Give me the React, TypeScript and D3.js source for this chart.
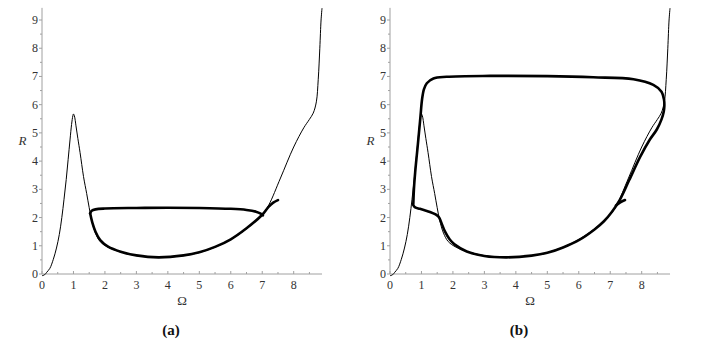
import React from 'react'
import * as d3 from 'd3'

// thin curve (same in both panels): [Omega, R]
const thinCurve: [number, number][] = [
  [0, -0.06], [0.08, -0.03], [0.15, 0.06], [0.25, 0.2], [0.36, 0.52], [0.46, 0.92],
  [0.55, 1.4], [0.63, 2.0], [0.7, 2.65], [0.77, 3.35], [0.83, 4.05], [0.89, 4.75],
  [0.94, 5.3], [0.98, 5.6], [1.0, 5.67], [1.03, 5.6], [1.08, 5.25], [1.14, 4.8], [1.21, 4.3],
  [1.32, 3.45], [1.42, 2.85], [1.5, 2.35], [1.58, 1.9], [1.7, 1.45], [1.85, 1.15],
  [2.1, 0.95], [2.5, 0.78], [3.0, 0.65], [3.7, 0.59], [4.5, 0.65], [5.0, 0.76],
  [5.5, 0.95], [6.0, 1.22], [6.5, 1.6], [7.0, 2.1], [7.21, 2.45], [7.58, 3.4],
  [8.0, 4.5], [8.32, 5.18], [8.5, 5.48], [8.62, 5.7], [8.72, 6.1], [8.78, 6.9],
  [8.83, 8.0], [8.87, 9.0], [8.9, 9.42],
]

// panel (a) thick branches
const lowerA: [number, number][] = [
  [1.53, 2.15], [1.6, 1.82], [1.7, 1.5], [1.85, 1.2], [2.1, 0.97], [2.5, 0.79],
  [3.0, 0.66], [3.7, 0.59], [4.5, 0.66], [5.0, 0.77], [5.5, 0.96], [6.0, 1.23],
  [6.5, 1.62], [7.0, 2.1], [7.2, 2.38], [7.35, 2.53], [7.5, 2.62],
]
const upperA: [number, number][] = [
  [1.53, 2.15], [1.58, 2.24], [1.7, 2.29], [2.0, 2.32], [3, 2.34], [4, 2.35],
  [5, 2.34], [6, 2.31], [6.5, 2.27], [6.8, 2.21], [6.95, 2.14], [7.02, 2.08],
]

// panel (b) thick loop + stub
const loopB: [number, number][] = [
  [0.74, 2.44], [0.8, 2.36], [0.95, 2.31], [1.1, 2.26], [1.27, 2.2], [1.45, 2.11],
  [1.55, 2.02], [1.62, 1.85], [1.75, 1.5], [1.9, 1.22], [2.05, 1.05], [2.44, 0.8],
  [3.0, 0.64], [3.7, 0.59], [4.5, 0.65], [5.0, 0.75], [5.5, 0.94], [6.0, 1.2],
  [6.5, 1.58], [6.8, 1.87], [7.05, 2.2], [7.3, 2.62], [7.6, 3.32], [7.95, 4.15],
  [8.25, 4.75], [8.48, 5.12], [8.63, 5.48], [8.7, 5.75], [8.72, 5.95], [8.71, 6.17],
  [8.63, 6.46], [8.37, 6.7], [7.74, 6.9], [6.46, 6.97], [5, 7.01], [3.18, 7.02],
  [1.8, 6.99], [1.38, 6.93], [1.17, 6.76], [1.08, 6.55], [1.02, 6.2], [0.97, 5.6],
  [0.92, 5.0], [0.86, 4.3], [0.8, 3.6], [0.76, 3.0], [0.74, 2.44],
]
const stubB: [number, number][] = [[7.18, 2.43], [7.32, 2.54], [7.47, 2.62]]

const xTicks = [0, 1, 2, 3, 4, 5, 6, 7, 8]
const yTicks = [0, 1, 2, 3, 4, 5, 6, 7, 8, 9]
const xMinor = d3.range(0.5, 8.9, 1)
const yMinor = d3.range(0.5, 9.4, 1)

const serif = "'Liberation Serif', 'DejaVu Serif', serif"
const axisColor = '#a0a0a0'

type Props = { left: number, label: string, thick: [number, number][][] }

const Panel = ({ left, label, thick }: Props) => {
  const x = d3.scaleLinear().domain([0, 8]).range([left, left + 251.7])
  const y = d3.scaleLinear().domain([0, 9]).range([274, 20])
  const line = d3.line<[number, number]>()
    .x(d => x(d[0]))
    .y(d => y(d[1]))
    .curve(d3.curveCatmullRom.alpha(0.5))
  const xEnd = x(8.9)
  const yTop = y(9.43)
  const mid = (x(0) + xEnd) / 2
  return (
    <g fontFamily={serif}>
      <line x1={x(0)} x2={xEnd} y1={y(0)} y2={y(0)} stroke={axisColor} strokeWidth={1} />
      <line x1={x(0)} x2={x(0)} y1={y(0)} y2={yTop} stroke={axisColor} strokeWidth={1} />
      {xTicks.map(t => (
        <g key={'x' + t}>
          <line x1={x(t)} x2={x(t)} y1={y(0)} y2={y(0) - 3} stroke={axisColor} />
          <text x={x(t)} y={289} textAnchor="middle" fontSize={12} fill="#333">{t}</text>
        </g>
      ))}
      {xMinor.map(t => (
        <line key={'xm' + t} x1={x(t)} x2={x(t)} y1={y(0)} y2={y(0) - 2} stroke={axisColor} />
      ))}
      {yTicks.map(t => (
        <g key={'y' + t}>
          <line x1={x(0) - 3} x2={x(0)} y1={y(t)} y2={y(t)} stroke={axisColor} />
          <text x={x(0) - 4} y={y(t) + 4} textAnchor="end" fontSize={12} fill="#333">{t}</text>
        </g>
      ))}
      {yMinor.map(t => (
        <line key={'ym' + t} x1={x(0) - 2} x2={x(0)} y1={y(t)} y2={y(t)} stroke={axisColor} />
      ))}
      <text x={left - 19.5} y={145} textAnchor="middle" fontSize={13} fontStyle="italic" fill="#333">R</text>
      <text x={mid} y={305} textAnchor="middle" fontSize={13} fill="#333">Ω</text>
      <text x={mid - 11} y={335} textAnchor="middle" fontSize={15} fontWeight="bold" fill="#111">{label}</text>
      <path d={line(thinCurve) || ''} fill="none" stroke="#000" strokeWidth={1} />
      {thick.map((c, i) => (
        <path key={i} d={line(c) || ''} fill="none" stroke="#000" strokeWidth={2.6} strokeLinejoin="round" strokeLinecap="round" />
      ))}
    </g>
  )
}

export default function App() {
  return (
    <svg width={720} height={347} style={{ position: 'absolute', left: 0, top: 0, background: '#fff' }}>
      <rect width={720} height={347} fill="#fff" />
      <Panel left={42} label="(a)" thick={[lowerA, upperA]} />
      <Panel left={390} label="(b)" thick={[loopB, stubB]} />
    </svg>
  )
}
